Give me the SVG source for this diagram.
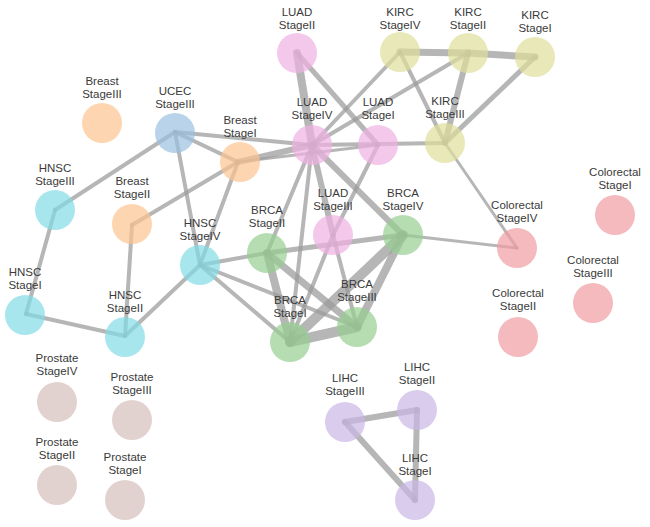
<svg xmlns="http://www.w3.org/2000/svg" width="650" height="527" viewBox="0 0 650 527">
<style>
.e{stroke:#9a9a9a;stroke-opacity:0.72;stroke-linecap:round;fill:none}
.n circle{fill-opacity:0.7}
text{font-family:"Liberation Sans",Arial,sans-serif;font-size:11.5px;fill:#3a3a3a;text-anchor:middle}
.breast circle{fill:#fcc38e}.ucec circle{fill:#9ac0e1}.hnsc circle{fill:#83dbe7}.luad circle{fill:#eeb0e1}
.kirc circle{fill:#dede9a}.brca circle{fill:#97ce91}.crc circle{fill:#ef9ca2}.pros circle{fill:#d6bfba}.lihc circle{fill:#cab6e5}
</style>
<rect width="650" height="527" fill="#ffffff"/>
<g id="connectors">
<line class="e" x1="297" y1="53" x2="312" y2="145" stroke-width="8"/>
<line class="e" x1="297" y1="53" x2="378" y2="145" stroke-width="5"/>
<line class="e" x1="400" y1="52" x2="468" y2="53" stroke-width="7"/>
<line class="e" x1="468" y1="53" x2="535" y2="57" stroke-width="7"/>
<line class="e" x1="468" y1="53" x2="445" y2="143" stroke-width="6"/>
<line class="e" x1="400" y1="52" x2="445" y2="143" stroke-width="4"/>
<line class="e" x1="535" y1="57" x2="445" y2="143" stroke-width="5"/>
<line class="e" x1="400" y1="52" x2="312" y2="145" stroke-width="4"/>
<line class="e" x1="468" y1="53" x2="312" y2="145" stroke-width="4"/>
<line class="e" x1="312" y1="145" x2="445" y2="143" stroke-width="4"/>
<line class="e" x1="445" y1="143" x2="517" y2="248" stroke-width="3"/>
<line class="e" x1="403" y1="235" x2="517" y2="248" stroke-width="3"/>
<line class="e" x1="312" y1="145" x2="403" y2="235" stroke-width="6"/>
<line class="e" x1="312" y1="145" x2="333" y2="235" stroke-width="6"/>
<line class="e" x1="312" y1="145" x2="267" y2="253" stroke-width="4"/>
<line class="e" x1="312" y1="145" x2="290" y2="342" stroke-width="4"/>
<line class="e" x1="378" y1="145" x2="333" y2="235" stroke-width="4"/>
<line class="e" x1="333" y1="235" x2="290" y2="342" stroke-width="4"/>
<line class="e" x1="333" y1="235" x2="357" y2="327" stroke-width="4"/>
<line class="e" x1="267" y1="253" x2="403" y2="235" stroke-width="5"/>
<line class="e" x1="200" y1="265" x2="267" y2="253" stroke-width="4"/>
<line class="e" x1="267" y1="253" x2="290" y2="342" stroke-width="8"/>
<line class="e" x1="267" y1="253" x2="357" y2="327" stroke-width="7"/>
<line class="e" x1="403" y1="235" x2="290" y2="342" stroke-width="10"/>
<line class="e" x1="403" y1="235" x2="357" y2="327" stroke-width="8"/>
<line class="e" x1="290" y1="342" x2="357" y2="327" stroke-width="10"/>
<line class="e" x1="200" y1="265" x2="357" y2="327" stroke-width="4"/>
<line class="e" x1="200" y1="265" x2="290" y2="342" stroke-width="4"/>
<line class="e" x1="175" y1="132" x2="55" y2="210" stroke-width="4"/>
<line class="e" x1="175" y1="132" x2="238" y2="162" stroke-width="4"/>
<line class="e" x1="175" y1="132" x2="200" y2="265" stroke-width="4"/>
<line class="e" x1="175" y1="132" x2="312" y2="145" stroke-width="4"/>
<line class="e" x1="238" y1="162" x2="312" y2="145" stroke-width="6"/>
<line class="e" x1="238" y1="162" x2="378" y2="145" stroke-width="3"/>
<line class="e" x1="238" y1="162" x2="132" y2="225" stroke-width="4"/>
<line class="e" x1="238" y1="162" x2="200" y2="265" stroke-width="4"/>
<line class="e" x1="55" y1="210" x2="26" y2="314" stroke-width="4"/>
<line class="e" x1="26" y1="314" x2="125" y2="336" stroke-width="4"/>
<line class="e" x1="125" y1="336" x2="132" y2="225" stroke-width="4"/>
<line class="e" x1="125" y1="336" x2="200" y2="265" stroke-width="4"/>
<line class="e" x1="345" y1="422" x2="417" y2="410" stroke-width="6"/>
<line class="e" x1="417" y1="410" x2="415" y2="500" stroke-width="6"/>
<line class="e" x1="345" y1="422" x2="415" y2="500" stroke-width="6"/>
</g>
<g id="n-breast3" class="n breast"><circle cx="102" cy="123" r="20"/><text x="102" y="85">Breast</text><text x="102" y="98">StageIII</text></g>
<g id="n-ucec3" class="n ucec"><circle cx="175" cy="133" r="20"/><text x="175" y="95">UCEC</text><text x="175" y="108">StageIII</text></g>
<g id="n-breast1" class="n breast"><circle cx="240" cy="162" r="20"/><text x="240" y="124">Breast</text><text x="240" y="137">StageI</text></g>
<g id="n-luad2" class="n luad"><circle cx="297" cy="53" r="20"/><text x="297" y="16">LUAD</text><text x="297" y="29">StageII</text></g>
<g id="n-kirc4" class="n kirc"><circle cx="400" cy="52" r="20"/><text x="400" y="16">KIRC</text><text x="400" y="29">StageIV</text></g>
<g id="n-kirc2" class="n kirc"><circle cx="468" cy="53" r="20"/><text x="468" y="16">KIRC</text><text x="468" y="29">StageII</text></g>
<g id="n-kirc1" class="n kirc"><circle cx="535" cy="57" r="20"/><text x="535" y="19">KIRC</text><text x="535" y="32">StageI</text></g>
<g id="n-luad4" class="n luad"><circle cx="312" cy="145" r="20"/><text x="312" y="106">LUAD</text><text x="312" y="119">StageIV</text></g>
<g id="n-luad1" class="n luad"><circle cx="378" cy="145" r="20"/><text x="378" y="106">LUAD</text><text x="378" y="119">StageI</text></g>
<g id="n-kirc3" class="n kirc"><circle cx="445" cy="143" r="20"/><text x="445" y="105">KIRC</text><text x="445" y="118">StageIII</text></g>
<g id="n-hnsc3" class="n hnsc"><circle cx="55" cy="210" r="20"/><text x="55" y="172">HNSC</text><text x="55" y="185">StageIII</text></g>
<g id="n-breast2" class="n breast"><circle cx="132" cy="224" r="20"/><text x="132" y="185">Breast</text><text x="132" y="198">StageII</text></g>
<g id="n-hnsc4" class="n hnsc"><circle cx="200" cy="265" r="20"/><text x="200" y="227">HNSC</text><text x="200" y="240">StageIV</text></g>
<g id="n-brca2" class="n brca"><circle cx="267" cy="253" r="20"/><text x="267" y="214">BRCA</text><text x="267" y="227">StageII</text></g>
<g id="n-luad3" class="n luad"><circle cx="333" cy="235" r="20"/><text x="333" y="197">LUAD</text><text x="333" y="210">StageIII</text></g>
<g id="n-brca4" class="n brca"><circle cx="403" cy="235" r="20"/><text x="403" y="197">BRCA</text><text x="403" y="210">StageIV</text></g>
<g id="n-crc4" class="n crc"><circle cx="517" cy="248" r="20"/><text x="517" y="209">Colorectal</text><text x="517" y="222">StageIV</text></g>
<g id="n-crc1" class="n crc"><circle cx="615" cy="215" r="20"/><text x="615" y="176">Colorectal</text><text x="615" y="189">StageI</text></g>
<g id="n-hnsc1" class="n hnsc"><circle cx="25" cy="315" r="20"/><text x="25" y="276">HNSC</text><text x="25" y="289">StageI</text></g>
<g id="n-hnsc2" class="n hnsc"><circle cx="125" cy="337" r="20"/><text x="125" y="299">HNSC</text><text x="125" y="312">StageII</text></g>
<g id="n-brca1" class="n brca"><circle cx="290" cy="342" r="20"/><text x="290" y="304">BRCA</text><text x="290" y="317">StageI</text></g>
<g id="n-brca3" class="n brca"><circle cx="357" cy="327" r="20"/><text x="357" y="288">BRCA</text><text x="357" y="301">StageIII</text></g>
<g id="n-crc3" class="n crc"><circle cx="593" cy="303" r="20"/><text x="593" y="264">Colorectal</text><text x="593" y="277">StageIII</text></g>
<g id="n-crc2" class="n crc"><circle cx="518" cy="337" r="20"/><text x="518" y="297">Colorectal</text><text x="518" y="310">StageII</text></g>
<g id="n-pros4" class="n pros"><circle cx="57" cy="402" r="20"/><text x="57" y="362">Prostate</text><text x="57" y="375">StageIV</text></g>
<g id="n-pros3" class="n pros"><circle cx="132" cy="420" r="20"/><text x="132" y="381">Prostate</text><text x="132" y="394">StageIII</text></g>
<g id="n-pros2" class="n pros"><circle cx="57" cy="485" r="20"/><text x="57" y="446">Prostate</text><text x="57" y="459">StageII</text></g>
<g id="n-pros1" class="n pros"><circle cx="125" cy="500" r="20"/><text x="125" y="461">Prostate</text><text x="125" y="474">StageI</text></g>
<g id="n-lihc3" class="n lihc"><circle cx="345" cy="422" r="20"/><text x="345" y="382">LIHC</text><text x="345" y="395">StageIII</text></g>
<g id="n-lihc2" class="n lihc"><circle cx="417" cy="410" r="20"/><text x="417" y="371">LIHC</text><text x="417" y="384">StageII</text></g>
<g id="n-lihc1" class="n lihc"><circle cx="415" cy="500" r="20"/><text x="415" y="462">LIHC</text><text x="415" y="475">StageI</text></g>
</svg>
